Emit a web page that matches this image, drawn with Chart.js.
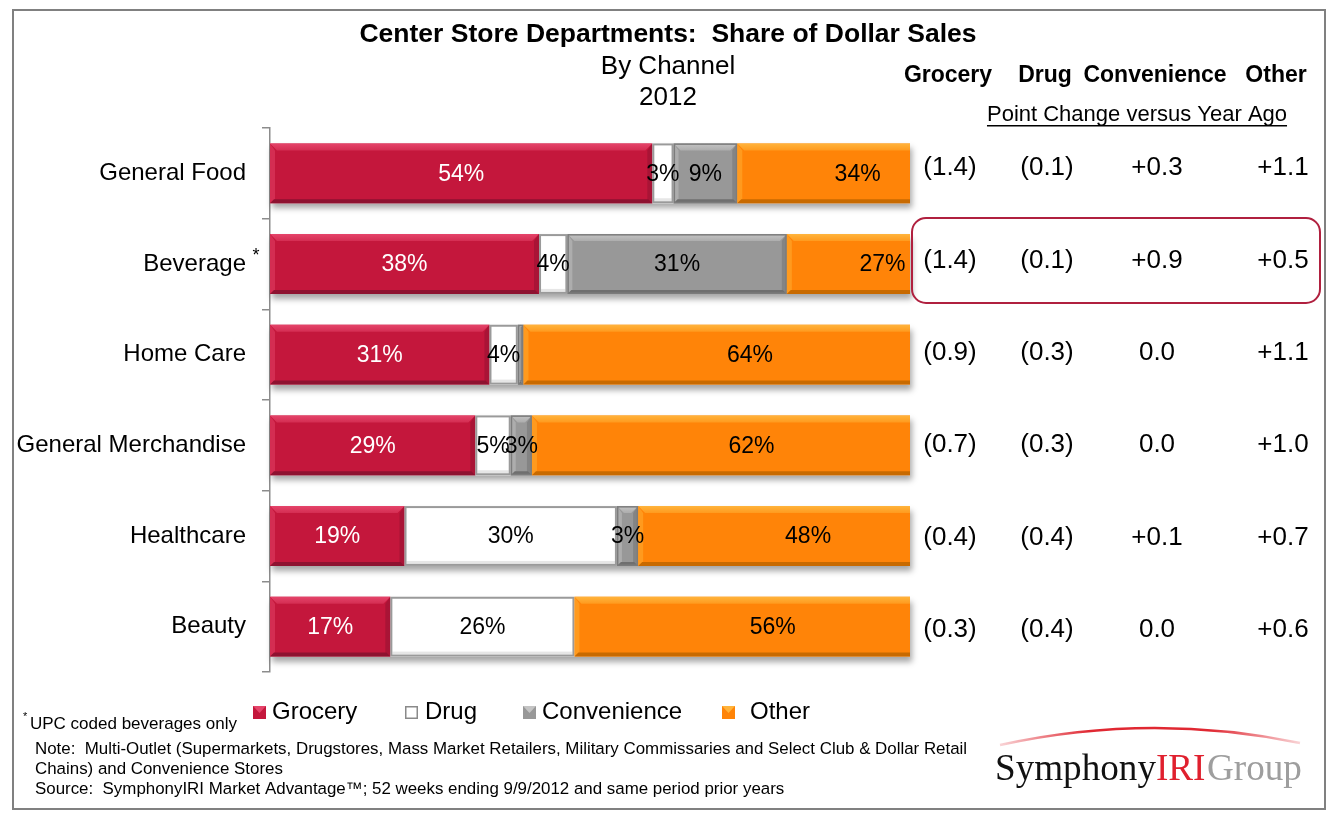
<!DOCTYPE html>
<html>
<head>
<meta charset="utf-8">
<script src="https://cdn.jsdelivr.net/npm/chart.js@4.4.0/dist/chart.umd.min.js"></script>
<style>
html, body { margin: 0; padding: 0; background: #fff; }
#wrap { width: 1339px; height: 821px; }
</style>
</head>
<body>
<div id="wrap"><canvas id="shareChart" width="1339" height="821"></canvas></div>
<script>
// data
const departments = ['General Food', 'Beverage', 'Home Care', 'General Merchandise', 'Healthcare', 'Beauty'];
const channels = ['Grocery', 'Drug', 'Convenience', 'Other'];
const grocery = [54, 38, 31, 29, 19, 17];
const drug = [3, 4, 4, 5, 30, 26];
const convenience = [9, 31, 0.8, 3, 3, 0];
const other = [34, 27, 64, 62, 48, 56];
// point change versus year ago
const chgGrocery = [-1.4, -1.4, -0.9, -0.7, -0.4, -0.3];
const chgDrug = [-0.1, -0.1, -0.3, -0.3, -0.4, -0.4];
const chgConvenience = [0.3, 0.9, 0.0, 0.0, 0.1, 0.0];
const chgOther = [1.1, 0.5, 1.1, 1.0, 0.7, 0.6];

const FONT = "'Liberation Sans', Arial, sans-serif";
Chart.defaults.font.family = FONT;
Chart.defaults.color = '#000';

const fills = ['#C4173C', '#FFFFFF', '#989898', '#FF8408'];
const bevelTop = ['#E5446A', '#FFFFFF', '#C4C4C4', '#FFB43C'];
const bevelSide = ['#D42D52', '#F2F2F2', '#ADADAD', '#FF9A1E'];
const bevelBottom = ['#8E1230', '#D8D8D8', '#6F6F6F', '#C86A00'];
const labelColors = ['#fff', '#000', '#000', '#000'];
const barClip = 68; // bars run on under the table and get cut at x=910

function fmtChange(v) {
  if (v < 0) return '(' + Math.abs(v).toFixed(1) + ')';
  if (v > 0) return '+' + v.toFixed(1);
  return '0.0';
}

function bevelRect(ctx, l, t, r, b, i) {
  const d = Math.min(7, (r - l) / 2), s = Math.min(5, (r - l) / 2), e = 4;
  const g = ctx.createLinearGradient(0, t, 0, t + d);
  g.addColorStop(0, bevelTop[i]);
  g.addColorStop(1, bevelSide[i]);
  ctx.fillStyle = g;
  ctx.beginPath();
  ctx.moveTo(l, t); ctx.lineTo(r, t); ctx.lineTo(r - d, t + d); ctx.lineTo(l + d, t + d);
  ctx.closePath(); ctx.fill();
  ctx.fillStyle = bevelSide[i];
  ctx.beginPath();
  ctx.moveTo(l, t); ctx.lineTo(l + s, t + d); ctx.lineTo(l + s, b - e); ctx.lineTo(l, b);
  ctx.closePath(); ctx.fill();
  ctx.fillStyle = bevelBottom[i];
  ctx.beginPath();
  ctx.moveTo(l, b); ctx.lineTo(r, b); ctx.lineTo(r - e, b - e); ctx.lineTo(l + e, b - e);
  ctx.closePath(); ctx.fill();
  ctx.globalAlpha = 0.5;
  ctx.beginPath();
  ctx.moveTo(r, t); ctx.lineTo(r - s, t + d); ctx.lineTo(r - s, b - e); ctx.lineTo(r, b);
  ctx.closePath(); ctx.fill();
  ctx.globalAlpha = 1;
}

// soft shadow under each row of bars
const rowShadow = {
  id: 'rowShadow',
  beforeDatasetsDraw(chart) {
    const ctx = chart.ctx, area = chart.chartArea;
    ctx.save();
    chart.getDatasetMeta(0).data.forEach(el => {
      const p = el.getProps(['y', 'height'], true);
      ctx.shadowColor = 'rgba(0,0,0,0.35)';
      ctx.shadowBlur = 6;
      ctx.shadowOffsetX = 2;
      ctx.shadowOffsetY = 5;
      ctx.fillStyle = '#fff';
      ctx.fillRect(area.left, p.y - p.height / 2, area.right - barClip - area.left, p.height);
    });
    ctx.restore();
  }
};

// bevel effect + data labels
const barDecor = {
  id: 'barDecor',
  afterDatasetsDraw(chart) {
    const ctx = chart.ctx, area = chart.chartArea;
    ctx.save();
    ctx.beginPath();
    ctx.rect(area.left, 0, area.right - barClip - area.left, chart.height);
    ctx.clip();
    chart.data.datasets.forEach((ds, i) => {
      chart.getDatasetMeta(i).data.forEach((el, j) => {
        if (!ds.data[j]) return;
        const p = el.getProps(['x', 'y', 'base', 'height'], true);
        const l = Math.min(p.base, p.x), r = Math.max(p.base, p.x);
        const t = p.y - p.height / 2, b = p.y + p.height / 2;
        if (i === 1) {
          ctx.fillStyle = '#E6E6E6';
          ctx.fillRect(l + 2, b - 5, r - l - 4, 3);
          ctx.strokeStyle = '#9A9A9A';
          ctx.lineWidth = 2;
          ctx.strokeRect(l + 1, t + 1, r - l - 2, b - t - 2);
        } else {
          bevelRect(ctx, l, t, r, b, i);
          if (i === 2) {
            ctx.strokeStyle = '#7C7C7C';
            ctx.lineWidth = 1.5;
            ctx.strokeRect(l + 0.75, t + 0.75, r - l - 1.5, b - t - 1.5);
          }
        }
      });
    });
    ctx.restore();

    ctx.save();
    ctx.font = '23px ' + FONT;
    ctx.textAlign = 'center';
    ctx.textBaseline = 'middle';
    chart.data.datasets.forEach((ds, i) => {
      chart.getDatasetMeta(i).data.forEach((el, j) => {
        const v = ds.data[j];
        if (v < 1) return;
        const p = el.getProps(['x', 'y', 'base'], true);
        ctx.fillStyle = labelColors[i];
        ctx.fillText(Math.round(v) + '%', (p.x + p.base) / 2, p.y + 1);
      });
    });
    ctx.restore();
  }
};

// titles, table, legend, notes, logo
const extras = {
  id: 'extras',
  afterDraw(chart) {
    const ctx = chart.ctx, yScale = chart.scales.y;
    ctx.save();
    ctx.textBaseline = 'middle';
    ctx.textAlign = 'center';
    ctx.fillStyle = '#000';

    ctx.font = 'bold 26.5px ' + FONT;
    ctx.fillText('Center Store Departments:  Share of Dollar Sales', 668, 35);
    ctx.font = '26px ' + FONT;
    ctx.fillText('By Channel', 668, 67);
    ctx.fillText('2012', 668, 98);

    // point change table
    const colX = [950, 1047, 1157, 1283];
    const headX = [948, 1045, 1155, 1276];
    ctx.font = 'bold 23px ' + FONT;
    channels.forEach((c, k) => ctx.fillText(c, headX[k], 76));
    ctx.font = '22px ' + FONT;
    ctx.fillText('Point Change versus Year Ago', 1137, 115);
    const uw = ctx.measureText('Point Change versus Year Ago').width;
    ctx.fillRect(1137 - uw / 2, 125, uw, 1.5);

    const changes = [chgGrocery, chgDrug, chgConvenience, chgOther];
    ctx.font = '26px ' + FONT;
    departments.forEach((d, j) => {
      const y = yScale.getPixelForValue(j) + (j - 2.5) * 1.7 - 1;
      changes.forEach((col, k) => ctx.fillText(fmtChange(col[j]), colX[k], y));
    });

    // highlight box round the beverage row
    const by = yScale.getPixelForValue(1);
    ctx.strokeStyle = '#B0203F';
    ctx.lineWidth = 2;
    ctx.beginPath();
    ctx.roundRect(912, by - 46, 408, 85, 14);
    ctx.stroke();

    // asterisk after Beverage
    ctx.font = '18px ' + FONT;
    ctx.fillText('*', 256, by - 8);

    // legend
    const mkX = [253, 405, 523, 722];
    const txX = [272, 425, 542, 750];
    ctx.textAlign = 'left';
    ctx.font = '24px ' + FONT;
    channels.forEach((c, k) => {
      ctx.fillStyle = fills[k];
      ctx.fillRect(mkX[k], 706, 13, 13);
      if (k === 1) {
        ctx.strokeStyle = '#8A8A8A';
        ctx.lineWidth = 1.5;
        ctx.strokeRect(mkX[k] + 0.75, 706.75, 11.5, 11.5);
      } else {
        ctx.fillStyle = bevelTop[k];
        ctx.beginPath();
        ctx.moveTo(mkX[k], 706); ctx.lineTo(mkX[k] + 13, 706); ctx.lineTo(mkX[k] + 6.5, 713);
        ctx.closePath(); ctx.fill();
      }
      ctx.fillStyle = '#000';
      ctx.fillText(c, txX[k], 712);
    });

    // footnotes
    ctx.font = '11px ' + FONT;
    ctx.fillText('*', 23, 717);
    ctx.font = '17px ' + FONT;
    ctx.fillText('UPC coded beverages only', 30, 724);
    ctx.font = '16.9px ' + FONT;
    ctx.fillText('Note:  Multi-Outlet (Supermarkets, Drugstores, Mass Market Retailers, Military Commissaries and Select Club & Dollar Retail', 35, 749);
    ctx.fillText('Chains) and Convenience Stores', 35, 769);
    ctx.fillText('Source:  SymphonyIRI Market Advantage\u2122; 52 weeks ending 9/9/2012 and same period prior years', 35, 789);

    // logo
    const arc = ctx.createLinearGradient(1000, 0, 1300, 0);
    arc.addColorStop(0, 'rgba(224,40,50,0.2)');
    arc.addColorStop(0.3, 'rgba(224,40,50,1)');
    arc.addColorStop(0.7, 'rgba(224,40,50,1)');
    arc.addColorStop(1, 'rgba(224,40,50,0.2)');
    ctx.strokeStyle = arc;
    ctx.lineWidth = 2.5;
    ctx.beginPath();
    ctx.moveTo(1000, 745);
    ctx.quadraticCurveTo(1150, 712, 1300, 743);
    ctx.stroke();

    const parts = [['Symphony', '#111111'], ['IRI', '#E0202E'], ['Group', '#9E9E9E']];
    ctx.font = '100px "Liberation Serif", "Times New Roman", serif';
    let total = 0;
    parts.forEach(p => { total += ctx.measureText(p[0]).width; });
    total += 4;
    const size = 100 * 307 / total;
    ctx.font = size + 'px "Liberation Serif", "Times New Roman", serif';
    ctx.textBaseline = 'alphabetic';
    let lx = 995;
    parts.forEach((p, k) => {
      ctx.fillStyle = p[1];
      ctx.fillText(p[0], lx, 780);
      lx += ctx.measureText(p[0]).width + (k === 1 ? size * 0.04 : 0);
    });

    // frame
    ctx.strokeStyle = '#808080';
    ctx.lineWidth = 2;
    ctx.strokeRect(13, 10, 1312, 799);
    ctx.restore();
  }
};

// Stacked Bar Chart
const ctx = document.getElementById('shareChart').getContext('2d');
const seriesData = [grocery, drug, convenience, other];
new Chart(ctx, {
  type: 'bar',
  data: {
    labels: departments,
    datasets: channels.map((c, i) => ({
      label: c,
      data: seriesData[i],
      backgroundColor: fills[i],
      borderWidth: 0,
      borderSkipped: false,
      clip: { left: 0, top: false, right: -barClip, bottom: false },
      barPercentage: 0.66,
      categoryPercentage: 1,
    })),
  },
  options: {
    indexAxis: 'y',
    responsive: false,
    animation: false,
    layout: { padding: { top: 128, bottom: 149, right: 361, left: 0 } },
    plugins: {
      legend: { display: false },
      tooltip: { enabled: false },
    },
    scales: {
      x: { stacked: true, min: 0, max: 100, display: false },
      y: {
        stacked: true,
        grid: { offset: true, drawOnChartArea: false, tickLength: 8, color: '#8C8C8C', lineWidth: 1.5 },
        border: { color: '#8C8C8C', width: 1.5 },
        ticks: { color: '#000', font: { size: 24 }, padding: 16 },
        afterFit: s => { s.width = 270; },
      },
    },
  },
  plugins: [rowShadow, barDecor, extras],
});
</script>
</body>
</html>
